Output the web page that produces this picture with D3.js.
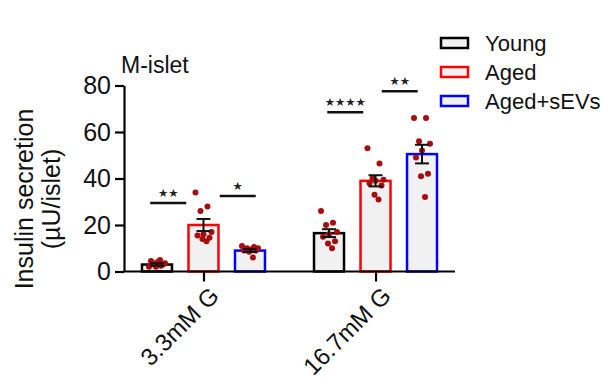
<!DOCTYPE html>
<html>
<head>
<meta charset="utf-8">
<script src="https://cdn.jsdelivr.net/npm/d3@7"></script>
<style>
  body { margin: 0; background: #fff; }
  svg { display: block; font-family: "Liberation Sans", Arial, sans-serif; }
</style>
</head>
<body>
<div id="chart"></div>
<script>
// data
const categories = ['3.3mM G', '16.7mM G'];
const groups = ['Young', 'Aged', 'Aged+sEVs'];
const groupColors = ['#000000', '#ff0000', '#0000ff'];
const yTicks = [0, 20, 40, 60, 80];

const means = [
  [3, 20, 9],
  [16.5, 39, 50.5]
];
const sems = [
  [0.5, 2.6, 0.6],
  [1.7, 2.4, 4]
];
const points = [
  [
    [2, 2.5, 3, 3.5, 4, 4.5, 3, 2, 5],
    [34, 28, 26, 17, 16, 15.5, 14.5, 14, 13],
    [11, 10.5, 10, 10, 9.5, 9, 9, 8.5, 6]
  ],
  [
    [26, 21, 20, 17, 16, 15, 13, 12, 10],
    [53, 46.5, 40, 39.5, 39, 38, 37, 33, 31],
    [66, 66, 56, 55, 52, 49, 42, 41, 32]
  ]
];
// significance brackets: [category, from group, to group, y value, label]
const sigs = [
  [0, 0, 1, 29.5, '★★'],
  [0, 1, 2, 32.5, '★'],
  [1, 0, 1, 68.5, '★★★★'],
  [1, 1, 2, 77.5, '★★']
];
// horizontal nudge of each bracket (px), layout only
const sigNudge = [-12, 11, -7, 1];

const width = 612, height = 391;
const svg = d3.select('#chart').append('svg')
  .attr('width', width)
  .attr('height', height);

const y = d3.scaleLinear().domain([0, 80]).range([271.5, 85.5]);
const x = d3.scalePoint().domain(categories).range([124, 455]).padding(0.462);
const xg = d3.scaleBand().domain(groups).range([-69.75, 69.75])
  .paddingInner(0.355).paddingOuter(0.1775);
const bw = xg.bandwidth();

// bars
categories.forEach((c, ci) => {
  const g = svg.append('g').attr('transform', `translate(${x(c)},0)`);
  groups.forEach((gr, gi) => {
    g.append('rect')
      .attr('x', xg(gr))
      .attr('y', y(means[ci][gi]))
      .attr('width', bw)
      .attr('height', y(0) - y(means[ci][gi]))
      .attr('fill', '#f1f1f1')
      .attr('stroke', groupColors[gi])
      .attr('stroke-width', 2.5);
  });
});

// dots
const jitter = [-8, 4, -3, 8, 0, -6, 6, -1, 3];
categories.forEach((c, ci) => {
  groups.forEach((gr, gi) => {
    const cx = x(c) + xg(gr) + bw / 2;
    svg.append('g').selectAll('circle')
      .data(points[ci][gi])
      .enter()
      .append('circle')
      .attr('cx', (d, i) => cx + jitter[i])
      .attr('cy', d => y(d))
      .attr('r', 3)
      .attr('fill', '#a80d0d');
  });
});

// error bars
categories.forEach((c, ci) => {
  groups.forEach((gr, gi) => {
    const cx = x(c) + xg(gr) + bw / 2;
    const m = means[ci][gi], s = sems[ci][gi];
    const e = svg.append('g').attr('stroke', '#111').attr('stroke-width', 2);
    e.append('line').attr('x1', cx).attr('x2', cx).attr('y1', y(m - s)).attr('y2', y(m + s));
    [m - s, m + s].forEach(v => {
      e.append('line').attr('x1', cx - 7).attr('x2', cx + 7).attr('y1', y(v)).attr('y2', y(v));
    });
  });
});

// axes
const yAxis = svg.append('g')
  .attr('transform', 'translate(124,0)')
  .call(d3.axisLeft(y).tickValues(yTicks).tickSize(9).tickSizeOuter(0).tickPadding(4));
yAxis.select('.domain').attr('stroke-width', 2.2);
yAxis.selectAll('.tick line').attr('stroke-width', 2.2);
yAxis.selectAll('.tick text')
  .style('font-size', '25px')
  .attr('fill', '#111')
  .attr('font-family', '"Liberation Sans", Arial, sans-serif');

const xAxis = svg.append('g')
  .attr('transform', `translate(0,${y(0)})`)
  .call(d3.axisBottom(x).tickSize(10).tickSizeOuter(0).tickFormat(''));
xAxis.select('.domain').attr('d', 'M124,0H455').attr('stroke-width', 2.2);
xAxis.selectAll('.tick line').attr('stroke-width', 2.2);

categories.forEach(c => {
  svg.append('text')
    .attr('transform', `translate(${x(c) + 5},${y(0) + 14}) rotate(-45)`)
    .attr('text-anchor', 'end')
    .attr('dy', '0.7em')
    .style('font-size', '24px')
    .attr('fill', '#111')
    .text(c);
});

// y title
const yTitle = svg.append('text')
  .attr('transform', 'translate(33,199) rotate(-90)')
  .attr('text-anchor', 'middle')
  .style('font-size', '25px')
  .attr('fill', '#111');
yTitle.append('tspan').attr('x', 0).attr('dy', 0).text('Insulin secretion');
yTitle.append('tspan').attr('x', 0).attr('dy', 27).text('(µU/islet)');

// panel label
svg.append('text')
  .attr('x', 121)
  .attr('y', 73)
  .style('font-size', '23px')
  .attr('fill', '#111')
  .text('M-islet');

// significance
sigs.forEach(([ci, a, b, v, lab], si) => {
  const x1 = x(categories[ci]) + xg(groups[a]) + bw / 2;
  const x2 = x(categories[ci]) + xg(groups[b]) + bw / 2;
  const mid = (x1 + x2) / 2 + sigNudge[si];
  svg.append('line')
    .attr('x1', mid - 18).attr('x2', mid + 18)
    .attr('y1', y(v)).attr('y2', y(v))
    .attr('stroke', '#111').attr('stroke-width', 2.5);
  svg.append('text')
    .attr('x', mid)
    .attr('y', y(v) - 6)
    .attr('text-anchor', 'middle')
    .style('font-family', '"DejaVu Sans", sans-serif')
    .style('font-size', '11.5px')
    .attr('fill', '#222')
    .text(lab);
});

// legend
const legend = svg.append('g').attr('transform', 'translate(441,38)');
groups.forEach((gr, gi) => {
  const row = legend.append('g').attr('transform', `translate(0,${gi * 29})`);
  row.append('rect')
    .attr('width', 27).attr('height', 10)
    .attr('fill', '#f1f1f1')
    .attr('stroke', groupColors[gi])
    .attr('stroke-width', 2.5);
  row.append('text')
    .attr('x', 44).attr('y', 13)
    .style('font-size', '22px')
    .attr('fill', '#111')
    .text(gr);
});
</script>
</body>
</html>
